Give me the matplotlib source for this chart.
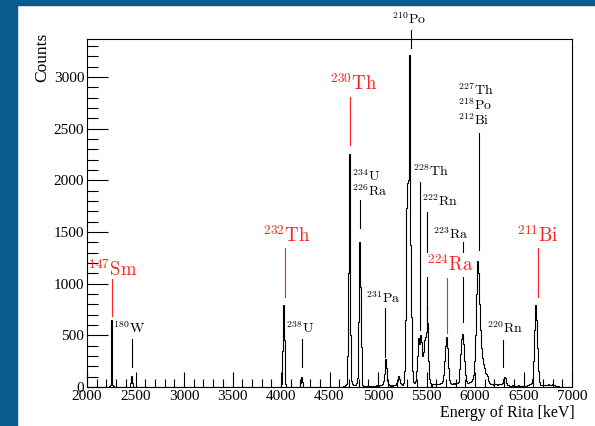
import numpy as np
import matplotlib
matplotlib.use('Agg')
from matplotlib import pyplot as plt
from matplotlib.patches import Rectangle
from matplotlib.ticker import MultipleLocator

plt.rcParams['mathtext.fontset'] = 'cm'
plt.rcParams['font.family'] = ['Liberation Serif', 'DejaVu Serif']

# alpha spectrum, 10 keV bins between 2000 and 7000 keV
e_min, e_max, bin_kev = 2000, 7000, 10

# (first bin energy [keV], counts per bin) for the non-empty parts
sm147 = (2230, [5, 20, 650, 15, 5])
w180 = (2440, [35, 110, 40])
th232 = (4000, [30, 350, 790, 450, 25])
u238 = (4200, [40, 95, 45])
th230_u234 = (4640, [5, 10, 15, 30, 300, 1100, 2250, 500, 60, 25,
                     15, 15, 20, 40, 90, 630, 1405, 970, 390, 60,
                     20, 10, 8, 10, 6])
low_4890 = (4890, [5, 8, 5, 10, 6, 8, 12, 8, 10, 15, 10, 12, 15, 20])
pa_po_rn = (5030, [20, 30, 60, 130, 270, 180, 60, 25, 15, 12,
                   15, 10, 15, 20, 15, 20, 40, 60, 110, 80,
                   40, 25, 20, 40, 150, 650, 1730, 1970, 2000, 3210,
                   1370, 680, 150, 50, 40, 60, 150, 300, 470, 420,
                   500, 440, 300, 340, 450, 480, 530, 780, 620, 250,
                   80, 40])
ra_bi_rn = (5560, [30, 25, 30, 25, 30, 30, 25, 30, 35, 40,
                   60, 120, 250, 400, 480, 380, 180, 70, 35, 30,
                   30, 35, 30, 35, 40, 40, 50, 80, 170, 320,
                   460, 510, 420, 250, 120, 60, 40, 40, 45, 50,
                   60, 80, 120, 250, 500, 900, 1215, 1100, 800, 550,
                   380, 280, 220, 180, 140, 130, 110, 60, 35, 30,
                   25, 30, 25, 20, 25, 30, 25, 20, 25, 30,
                   25, 30, 40, 80, 100, 85, 40, 20])
tail_6340 = (6340, [15, 12, 10, 12, 15, 10, 12, 8, 12, 10,
                    15, 12, 10, 8, 12, 10, 15, 12, 10, 12,
                    15, 20, 25])
bi211 = (6570, [30, 40, 80, 250, 550, 790, 650, 380, 150, 50,
                20, 15, 15, 20, 18, 20, 22, 20, 25, 20,
                22, 20, 25, 20, 15, 10, 8, 10, 6, 5])

segments = [sm147, w180, th232, u238, th230_u234, low_4890,
            pa_po_rn, ra_bi_rn, tail_6340, bi211]

edges = np.arange(e_min, e_max + bin_kev, bin_kev)
counts = np.zeros(len(edges) - 1)
for start, vals in segments:
    i = (start - e_min) // bin_kev
    counts[i:i + len(vals)] = vals

W, H = 595, 426
fig = plt.figure(figsize=(W / 100, H / 100), dpi=100)
fig.patch.set_facecolor('white')
blue = '#0b5a8e'
fig.patches.append(Rectangle((0, 0), 17 / W, 1, transform=fig.transFigure, color=blue, zorder=0))
fig.patches.append(Rectangle((0, 1 - 5 / H), 1, 5 / H, transform=fig.transFigure, color=blue, zorder=0))

ax = fig.add_axes([87 / W, 1 - 387 / H, (572 - 87) / W, (387 - 38.6) / H])
ax.stairs(counts, edges, color='black', lw=0.8)
ax.set_xlim(e_min, e_max)
ax.set_ylim(0, 3370)

ax.set_xticks(np.arange(2000, 7001, 500))
ax.set_yticks(np.arange(0, 3001, 500))
ax.xaxis.set_minor_locator(MultipleLocator(100))
ax.yaxis.set_minor_locator(MultipleLocator(100))
ax.tick_params(which='both', direction='in', top=False, right=False,
               labelsize=11, width=0.8, pad=2)
ax.tick_params(axis='y', which='major', length=15)
ax.tick_params(axis='y', which='minor', length=8)
ax.tick_params(axis='x', which='major', length=11)
ax.tick_params(axis='x', which='minor', length=5.5)
for s in ax.spines.values():
    s.set_linewidth(0.8)

fig.text(42 / W, 1 - 57 / H, 'Counts', rotation=90, ha='center', va='center', fontsize=12.5)
fig.text(575 / W, 1 - 405 / H, 'Energy of Rita [keV]', ha='right', va='top', fontsize=11.5)


def mark(text, tx, ty, lx, y0, y1, color='black', size=10, ha='left', box=False):
    t = ax.text(tx, ty, text, color=color, fontsize=size, ha=ha, va='center',
                clip_on=False, zorder=5)
    if box:
        t.set_bbox(dict(facecolor='white', edgecolor='none', pad=1))
    if lx is not None:
        ax.plot([lx, lx], [y0, y1], color=color, lw=0.8, clip_on=False, zorder=3)


red = '#ff2020'
mark(r'$^{147}\mathrm{Sm}$', 2262, 1140, 2262, 1040, 690, red, 13.5, 'center')
mark(r'$^{232}\mathrm{Th}$', 4058, 1470, 4037, 1341, 872, red, 13.5, 'center')
mark(r'$^{230}\mathrm{Th}$', 4750, 2935, 4709, 2807, 2340, red, 13.5, 'center')
mark(r'$^{224}\mathrm{Ra}$', 5745, 1180, 5711, 1051, 519, red, 13.5, 'center', box=True)
mark(r'$^{211}\mathrm{Bi}$', 6645, 1465, 6653, 1341, 873, red, 13.5, 'center')

mark(r'$^{180}\mathrm{W}$', 2432, 570, 2460, 461, 196, ha='center')
mark(r'$^{238}\mathrm{U}$', 4198, 570, 4219, 461, 196, ha='center')
mark(r'$^{234}\mathrm{U}$', 4733, 2040, None, 0, 0)
mark(r'$^{226}\mathrm{Ra}$', 4733, 1896, 4812, 1808, 1535)
mark(r'$^{231}\mathrm{Pa}$', 4881, 861, 5071, 761, 293)
mark(r'$^{210}\mathrm{Po}$', 5316, 3554, 5340, 3453, 3276, ha='center')
mark(r'$^{228}\mathrm{Th}$', 5364, 2089, 5436, 1985, 551)
mark(r'$^{222}\mathrm{Rn}$', 5454, 1799, 5505, 1695, 776)
mark(r'$^{223}\mathrm{Ra}$', 5570, 1480, 5875, 1405, 632)
mark(r'$^{227}\mathrm{Th}$', 5827, 2872, None, 0, 0)
mark(r'$^{218}\mathrm{Po}$', 5827, 2727, None, 0, 0)
mark(r'$^{212}\mathrm{Bi}$', 5827, 2582, 6046, 2453, 1325)
mark(r'$^{220}\mathrm{Rn}$', 6122, 570, 6293, 455, 196)

fig.savefig('out.png', dpi=100)
